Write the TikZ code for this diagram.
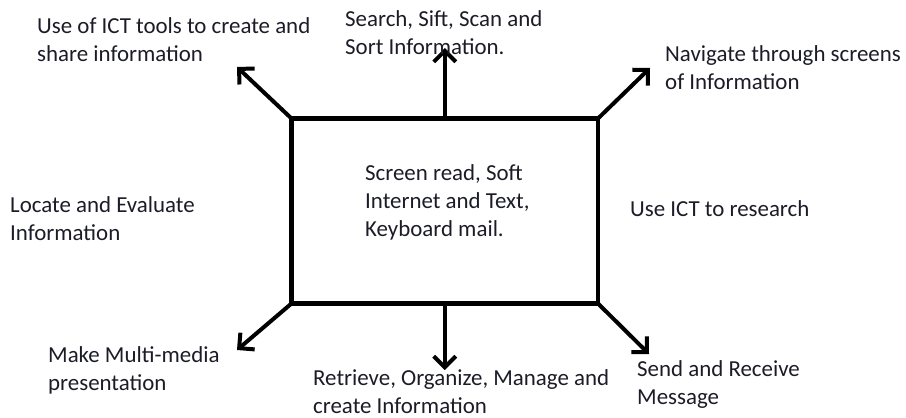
\documentclass[tikz,border=0pt]{standalone}
\usepackage{fontspec}
\setmainfont{Carlito}
\usetikzlibrary{arrows.meta}
\definecolor{labelink}{RGB}{28,28,40}
\tikzset{
    lbl/.style={anchor=base west, align=left, inner sep=0pt, text=labelink,
        font=\fontsize{22.9}{28}\selectfont},
    spoke/.style={line width=4pt, -{Straight Barb[length=11pt,width=22pt,line width=4pt]}}
}
\begin{document}
\begin{tikzpicture}[x=1pt,y=-1pt]
    \useasboundingbox (0,0) rectangle (906,418);
    \node [draw=black, line width=4.8pt, rectangle, outer sep=0pt, minimum width=306.5pt, minimum height=185pt] (box) at (444.75,211) {};
    % base = last line
    \node [lbl] (core) at (365,236) {Screen read, Soft\\Internet and Text,\\Keyboard mail.};

    \coordinate (nw) at (237,67);
    \coordinate (n) at (444.75,48);
    \coordinate (ne) at (650,68);
    \coordinate (sw) at (237,350);
    \coordinate (s) at (444.75,370);
    \coordinate (se) at (649,354);

    \draw [spoke] (box.north west) -- (nw);
    \draw [spoke] (box.north) -- (n);
    \draw [spoke] (box.north east) -- (ne);
    \draw [spoke] (box.south west) -- (sw);
    \draw [spoke] (box.south) -- (s);
    \draw [spoke] (box.south east) -- (se);

    \node [lbl] (share) at (37,61) {Use of ICT tools to create and\\share information};
    \node [lbl] (search) at (345,54) {Search, Sift, Scan and\\Sort Information.};
    \node [lbl] (navigate) at (665,89) {Navigate through screens\\of Information};
    \node [lbl] (locate) at (10,240) {Locate and Evaluate\\Information};
    \node [lbl] (research) at (630,216) {Use ICT to research};
    \node [lbl] (media) at (48,390) {Make Multi-media\\presentation};
    \node [lbl] (retrieve) at (313,413) {Retrieve, Organize, Manage and\\create Information};
    \node [lbl] (send) at (637,404) {Send and Receive\\Message};
\end{tikzpicture}
\end{document}
